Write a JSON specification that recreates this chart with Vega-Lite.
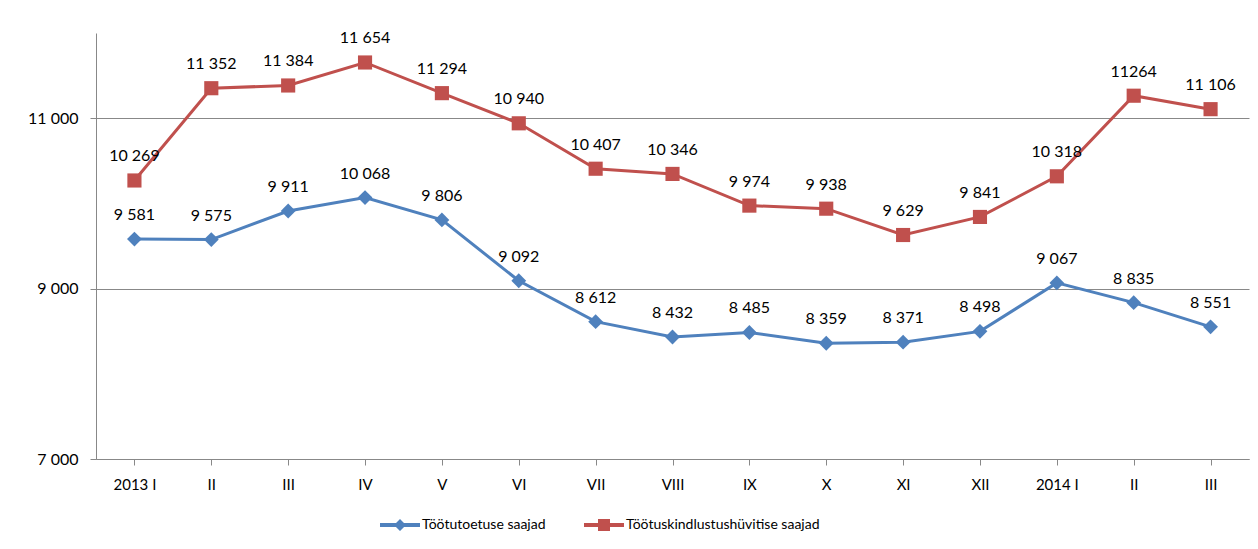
{
  "$schema": "https://vega.github.io/schema/vega-lite/v6.json",
  "width": 1153,
  "height": 426,
  "autosize": "none",
  "padding": {"left": 96, "top": 33, "right": 9, "bottom": 90},
  "background": "white",
  "config": {"view": {"stroke": null}, "font": "Lato"},
  "data": {"values": [
    {"month": "2013 I", "series": "Töötutoetuse saajad", "value": 9581, "label": "9 581"},
    {"month": "2013 II", "series": "Töötutoetuse saajad", "value": 9575, "label": "9 575"},
    {"month": "2013 III", "series": "Töötutoetuse saajad", "value": 9911, "label": "9 911"},
    {"month": "2013 IV", "series": "Töötutoetuse saajad", "value": 10068, "label": "10 068"},
    {"month": "2013 V", "series": "Töötutoetuse saajad", "value": 9806, "label": "9 806"},
    {"month": "2013 VI", "series": "Töötutoetuse saajad", "value": 9092, "label": "9 092"},
    {"month": "2013 VII", "series": "Töötutoetuse saajad", "value": 8612, "label": "8 612"},
    {"month": "2013 VIII", "series": "Töötutoetuse saajad", "value": 8432, "label": "8 432"},
    {"month": "2013 IX", "series": "Töötutoetuse saajad", "value": 8485, "label": "8 485"},
    {"month": "2013 X", "series": "Töötutoetuse saajad", "value": 8359, "label": "8 359"},
    {"month": "2013 XI", "series": "Töötutoetuse saajad", "value": 8371, "label": "8 371"},
    {"month": "2013 XII", "series": "Töötutoetuse saajad", "value": 8498, "label": "8 498"},
    {"month": "2014 I", "series": "Töötutoetuse saajad", "value": 9067, "label": "9 067"},
    {"month": "2014 II", "series": "Töötutoetuse saajad", "value": 8835, "label": "8 835"},
    {"month": "2014 III", "series": "Töötutoetuse saajad", "value": 8551, "label": "8 551"},
    {"month": "2013 I", "series": "Töötuskindlustushüvitise saajad", "value": 10269, "label": "10 269"},
    {"month": "2013 II", "series": "Töötuskindlustushüvitise saajad", "value": 11352, "label": "11 352"},
    {"month": "2013 III", "series": "Töötuskindlustushüvitise saajad", "value": 11384, "label": "11 384"},
    {"month": "2013 IV", "series": "Töötuskindlustushüvitise saajad", "value": 11654, "label": "11 654"},
    {"month": "2013 V", "series": "Töötuskindlustushüvitise saajad", "value": 11294, "label": "11 294"},
    {"month": "2013 VI", "series": "Töötuskindlustushüvitise saajad", "value": 10940, "label": "10 940"},
    {"month": "2013 VII", "series": "Töötuskindlustushüvitise saajad", "value": 10407, "label": "10 407"},
    {"month": "2013 VIII", "series": "Töötuskindlustushüvitise saajad", "value": 10346, "label": "10 346"},
    {"month": "2013 IX", "series": "Töötuskindlustushüvitise saajad", "value": 9974, "label": "9 974"},
    {"month": "2013 X", "series": "Töötuskindlustushüvitise saajad", "value": 9938, "label": "9 938"},
    {"month": "2013 XI", "series": "Töötuskindlustushüvitise saajad", "value": 9629, "label": "9 629"},
    {"month": "2013 XII", "series": "Töötuskindlustushüvitise saajad", "value": 9841, "label": "9 841"},
    {"month": "2014 I", "series": "Töötuskindlustushüvitise saajad", "value": 10318, "label": "10 318"},
    {"month": "2014 II", "series": "Töötuskindlustushüvitise saajad", "value": 11264, "label": "11264"},
    {"month": "2014 III", "series": "Töötuskindlustushüvitise saajad", "value": 11106, "label": "11 106"}
  ]},
  "encoding": {
    "x": {
      "field": "month", "type": "ordinal", "sort": null,
      "scale": {"paddingInner": 0, "paddingOuter": 0},
      "axis": {
        "title": null, "labelAngle": 0, "grid": false,
        "domainColor": "#888888", "tickColor": "#888888", "tickSize": 6,
        "labelFontSize": 15, "labelPadding": 12, "labelColor": "#000000",
        "labelExpr": "slice(datum.value, 4) == ' I' ? datum.value : substring(datum.value, 5)"
      }
    },
    "y": {
      "field": "value", "type": "quantitative",
      "scale": {"domain": [7000, 12000], "nice": false, "zero": false},
      "axis": {
        "title": null, "values": [7000, 9000, 11000], "grid": true,
        "gridColor": "#888888", "domainColor": "#888888", "tickColor": "#888888",
        "tickSize": 6, "labelFontSize": 16, "labelPadding": 12, "labelColor": "#000000",
        "labelExpr": "replace(format(datum.value, ','), ',', ' ')"
      }
    }
  },
  "layer": [
    {
      "mark": {"type": "line", "strokeWidth": 3},
      "encoding": {
        "color": {
          "field": "series", "type": "nominal",
          "scale": {"domain": ["Töötutoetuse saajad", "Töötuskindlustushüvitise saajad"], "range": ["#4F81BD", "#C0504D"]},
          "legend": {
            "title": null, "orient": "none", "legendX": 284, "legendY": 472,
            "direction": "horizontal", "labelFontSize": 14, "labelColor": "#000000",
            "columnPadding": 38, "symbolSize": 1600, "labelLimit": 0, "padding": 0, "labelOffset": 2,
            "symbolType": "M-1,-0.1H1V0.1H-1Z M-0.3,-0.3H0.3V0.3H-0.3Z",
            "symbolStrokeWidth": 0,
            "encode": {
              "symbols": {
                "update": {
                  "shape": {"signal": "datum.index === 0 ? 'M-1,-0.1H1V0.1H-1Z M0,-0.3L0.3,0L0,0.3L-0.3,0Z' : 'M-1,-0.1H1V0.1H-1Z M-0.3,-0.3H0.3V0.3H-0.3Z'"},
                  "fill": {"signal": "datum.index === 0 ? '#4F81BD' : '#C0504D'"},
                  "stroke": {"value": "transparent"}
                }
              }
            }
          }
        }
      }
    },
    {
      "transform": [{"filter": "datum.series === 'Töötutoetuse saajad'"}],
      "mark": {"type": "point", "filled": true, "opacity": 1, "size": 220, "shape": "diamond", "color": "#4F81BD"},
      "encoding": {}
    },
    {
      "transform": [{"filter": "datum.series !== 'Töötutoetuse saajad'"}],
      "mark": {"type": "point", "filled": true, "opacity": 1, "size": 200, "shape": "square", "color": "#C0504D"},
      "encoding": {}
    },
    {
      "mark": {"type": "text", "dy": -24, "fontSize": 16, "color": "#000000", "baseline": "middle"},
      "encoding": {"text": {"field": "label"}}
    }
  ]
}
